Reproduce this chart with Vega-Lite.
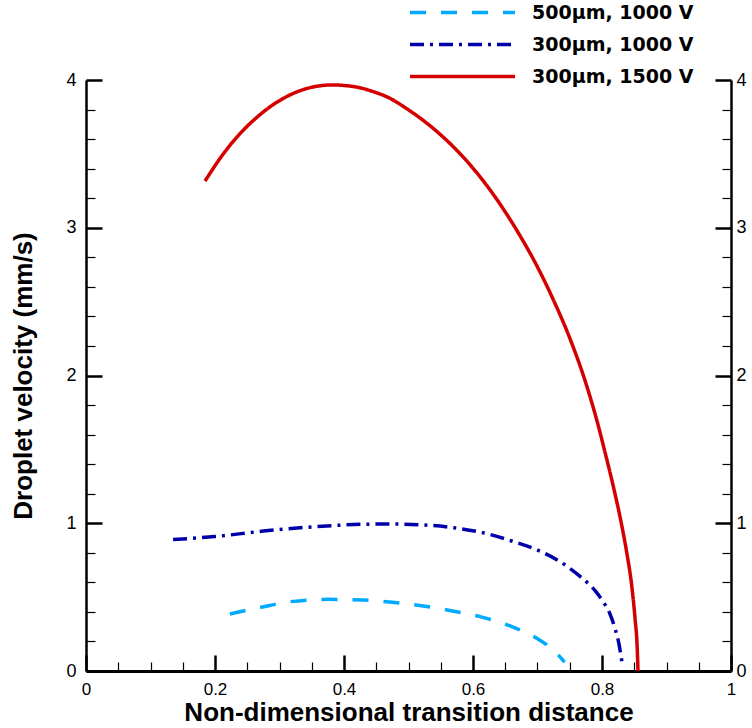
{
  "$schema": "https://vega.github.io/schema/vega-lite/v6.json",
  "width": 645,
  "height": 591,
  "autosize": {"type": "none"},
  "padding": {"left": 86, "top": 80, "right": 21, "bottom": 57},
  "background": "white",
  "config": {
    "view": {"stroke": null},
    "axis": {
      "grid": false,
      "labelFont": "Liberation Sans",
      "labelFontSize": 18,
      "labelColor": "black",
      "labelFlush": false,
      "labelOverlap": false,
      "titleFont": "Liberation Sans",
      "titleFontSize": 26,
      "titleFontWeight": "bold",
      "titleColor": "black",
      "domainColor": "black",
      "tickColor": "black"
    }
  },
  "datasets": {
    "curves": [
      {"series": "300µm, 1500 V", "x": 0.1845, "y": 3.316},
      {"series": "300µm, 1500 V", "x": 0.2129, "y": 3.5},
      {"series": "300µm, 1500 V", "x": 0.2388, "y": 3.637},
      {"series": "300µm, 1500 V", "x": 0.2646, "y": 3.746},
      {"series": "300µm, 1500 V", "x": 0.2904, "y": 3.834},
      {"series": "300µm, 1500 V", "x": 0.3163, "y": 3.899},
      {"series": "300µm, 1500 V", "x": 0.3421, "y": 3.942},
      {"series": "300µm, 1500 V", "x": 0.363, "y": 3.961},
      {"series": "300µm, 1500 V", "x": 0.3835, "y": 3.967},
      {"series": "300µm, 1500 V", "x": 0.4, "y": 3.963},
      {"series": "300µm, 1500 V", "x": 0.4196, "y": 3.952},
      {"series": "300µm, 1500 V", "x": 0.4455, "y": 3.921},
      {"series": "300µm, 1500 V", "x": 0.4713, "y": 3.876},
      {"series": "300µm, 1500 V", "x": 0.4972, "y": 3.806},
      {"series": "300µm, 1500 V", "x": 0.523, "y": 3.726},
      {"series": "300µm, 1500 V", "x": 0.5478, "y": 3.637},
      {"series": "300µm, 1500 V", "x": 0.5695, "y": 3.548},
      {"series": "300µm, 1500 V", "x": 0.5953, "y": 3.427},
      {"series": "300µm, 1500 V", "x": 0.6212, "y": 3.287},
      {"series": "300µm, 1500 V", "x": 0.647, "y": 3.127},
      {"series": "300µm, 1500 V", "x": 0.6729, "y": 2.946},
      {"series": "300µm, 1500 V", "x": 0.6987, "y": 2.745},
      {"series": "300µm, 1500 V", "x": 0.7245, "y": 2.513},
      {"series": "300µm, 1500 V", "x": 0.7504, "y": 2.249},
      {"series": "300µm, 1500 V", "x": 0.776, "y": 1.934},
      {"series": "300µm, 1500 V", "x": 0.7916, "y": 1.703},
      {"series": "300µm, 1500 V", "x": 0.8047, "y": 1.48},
      {"series": "300µm, 1500 V", "x": 0.8176, "y": 1.248},
      {"series": "300µm, 1500 V", "x": 0.8295, "y": 1.01},
      {"series": "300µm, 1500 V", "x": 0.8383, "y": 0.803},
      {"series": "300µm, 1500 V", "x": 0.846, "y": 0.58},
      {"series": "300µm, 1500 V", "x": 0.8512, "y": 0.356},
      {"series": "300µm, 1500 V", "x": 0.8548, "y": 0.133},
      {"series": "300µm, 1500 V", "x": 0.8558, "y": 0.0},
      {"series": "300µm, 1000 V", "x": 0.135, "y": 0.89},
      {"series": "300µm, 1000 V", "x": 0.2, "y": 0.91},
      {"series": "300µm, 1000 V", "x": 0.275, "y": 0.947},
      {"series": "300µm, 1000 V", "x": 0.35, "y": 0.975},
      {"series": "300µm, 1000 V", "x": 0.43, "y": 0.993},
      {"series": "300µm, 1000 V", "x": 0.47, "y": 0.995},
      {"series": "300µm, 1000 V", "x": 0.518, "y": 0.99},
      {"series": "300µm, 1000 V", "x": 0.57, "y": 0.97},
      {"series": "300µm, 1000 V", "x": 0.621, "y": 0.93},
      {"series": "300µm, 1000 V", "x": 0.66, "y": 0.88},
      {"series": "300µm, 1000 V", "x": 0.699, "y": 0.82},
      {"series": "300µm, 1000 V", "x": 0.735, "y": 0.74},
      {"series": "300µm, 1000 V", "x": 0.766, "y": 0.64},
      {"series": "300µm, 1000 V", "x": 0.79, "y": 0.54},
      {"series": "300µm, 1000 V", "x": 0.8, "y": 0.48},
      {"series": "300µm, 1000 V", "x": 0.812, "y": 0.39},
      {"series": "300µm, 1000 V", "x": 0.82, "y": 0.29},
      {"series": "300µm, 1000 V", "x": 0.826, "y": 0.19},
      {"series": "300µm, 1000 V", "x": 0.831, "y": 0.06},
      {"series": "500µm, 1000 V", "x": 0.223, "y": 0.386},
      {"series": "500µm, 1000 V", "x": 0.27, "y": 0.43},
      {"series": "500µm, 1000 V", "x": 0.316, "y": 0.469},
      {"series": "500µm, 1000 V", "x": 0.378, "y": 0.485},
      {"series": "500µm, 1000 V", "x": 0.43, "y": 0.48},
      {"series": "500µm, 1000 V", "x": 0.475, "y": 0.465},
      {"series": "500µm, 1000 V", "x": 0.523, "y": 0.44},
      {"series": "500µm, 1000 V", "x": 0.57, "y": 0.405},
      {"series": "500µm, 1000 V", "x": 0.611, "y": 0.368},
      {"series": "500µm, 1000 V", "x": 0.66, "y": 0.3},
      {"series": "500µm, 1000 V", "x": 0.699, "y": 0.221},
      {"series": "500µm, 1000 V", "x": 0.725, "y": 0.14},
      {"series": "500µm, 1000 V", "x": 0.742, "y": 0.06}
    ]
  },
  "data": {"name": "curves"},
  "layer": [
    {
      "mark": {"type": "line", "strokeWidth": 3.5, "clip": false, "interpolate": "monotone"},
      "encoding": {
        "x": {
          "field": "x", "type": "quantitative",
          "scale": {"domain": [0, 1], "nice": false, "zero": false},
          "axis": {
            "orient": "bottom",
            "values": [0, 0.2, 0.4, 0.6, 0.8, 1],
            "format": "~g",
            "tickSize": -16, "tickWidth": 2.5,
            "domainWidth": 3,
            "labelFontSize": 17,
            "labelPadding": 26,
            "title": "Non-dimensional transition distance",
            "titlePadding": 2
          }
        },
        "y": {
          "field": "y", "type": "quantitative",
          "scale": {"domain": [0, 4], "nice": false, "zero": false},
          "axis": {
            "orient": "left",
            "values": [0, 1, 2, 3, 4],
            "format": "d",
            "tickSize": -16, "tickWidth": 2.5,
            "domainWidth": 2.5,
            "labelPadding": 26,
            "title": "Droplet velocity (mm/s)",
            "titlePadding": 29
          }
        },
        "color": {
          "field": "series", "type": "nominal",
          "scale": {
            "domain": ["500µm, 1000 V", "300µm, 1000 V", "300µm, 1500 V"],
            "range": ["#00aaff", "#0000aa", "#d40000"]
          },
          "legend": {
            "orient": "none", "legendX": 364, "legendY": -80,
            "title": null, "padding": 0,
            "symbolType": "M-5,0H5", "symbolSize": 441, "symbolStrokeWidth": 3.5,
            "labelFont": "DejaVu Sans", "labelFontWeight": "bold", "labelFontSize": 19,
            "labelColor": "black", "labelOffset": 57, "labelLimit": 400, "rowPadding": 9
          }
        },
        "strokeDash": {
          "field": "series", "type": "nominal",
          "scale": {
            "domain": ["500µm, 1000 V", "300µm, 1000 V", "300µm, 1500 V"],
            "range": [[16, 15], [14, 6, 3, 6], [1, 0]]
          },
          "legend": {
            "orient": "none", "legendX": 364, "legendY": -80,
            "title": null, "padding": 0,
            "symbolType": "M-5,0H5", "symbolSize": 441, "symbolStrokeWidth": 3.5,
            "labelFont": "DejaVu Sans", "labelFontWeight": "bold", "labelFontSize": 19,
            "labelColor": "black", "labelOffset": 57, "labelLimit": 400, "rowPadding": 9
          }
        }
      }
    },
    {
      "mark": {"type": "line", "opacity": 0},
      "encoding": {
        "detail": {"field": "series"},
        "x": {
          "field": "x", "type": "quantitative",
          "scale": {"domain": [0, 1], "nice": false, "zero": false},
          "axis": {
            "orient": "bottom",
            "values": [0.05, 0.1, 0.15, 0.25, 0.3, 0.35, 0.45, 0.5, 0.55, 0.65, 0.7, 0.75, 0.85, 0.9, 0.95],
            "tickSize": -9, "tickWidth": 1.2,
            "labels": false, "domain": false, "title": null
          }
        },
        "y": {
          "field": "y", "type": "quantitative",
          "scale": {"domain": [0, 4], "nice": false, "zero": false},
          "axis": {
            "orient": "right",
            "values": [0, 1, 2, 3, 4],
            "format": "d",
            "tickSize": -16, "tickWidth": 2.5,
            "domainWidth": 2.5,
            "labelPadding": 21,
            "title": null
          }
        }
      }
    },
    {
      "mark": {"type": "line", "opacity": 0},
      "encoding": {
        "detail": {"field": "series"},
        "x": {"field": "x", "type": "quantitative", "scale": {"domain": [0, 1], "nice": false, "zero": false}, "axis": null},
        "y": {
          "field": "y", "type": "quantitative",
          "scale": {"domain": [0, 4], "nice": false, "zero": false},
          "axis": {
            "orient": "left",
            "values": [0.2, 0.4, 0.6, 0.8, 1.2, 1.4, 1.6, 1.8, 2.2, 2.4, 2.6, 2.8, 3.2, 3.4, 3.6, 3.8],
            "tickSize": -9, "tickWidth": 1.2,
            "labels": false, "domain": false, "title": null
          }
        }
      }
    },
    {
      "mark": {"type": "line", "opacity": 0},
      "encoding": {
        "detail": {"field": "series"},
        "x": {"field": "x", "type": "quantitative", "scale": {"domain": [0, 1], "nice": false, "zero": false}, "axis": null},
        "y": {
          "field": "y", "type": "quantitative",
          "scale": {"domain": [0, 4], "nice": false, "zero": false},
          "axis": {
            "orient": "right",
            "values": [0.2, 0.4, 0.6, 0.8, 1.2, 1.4, 1.6, 1.8, 2.2, 2.4, 2.6, 2.8, 3.2, 3.4, 3.6, 3.8],
            "tickSize": -9, "tickWidth": 1.2,
            "labels": false, "domain": false, "title": null
          }
        }
      }
    }
  ],
  "resolve": {"axis": {"x": "independent", "y": "independent"}}
}
